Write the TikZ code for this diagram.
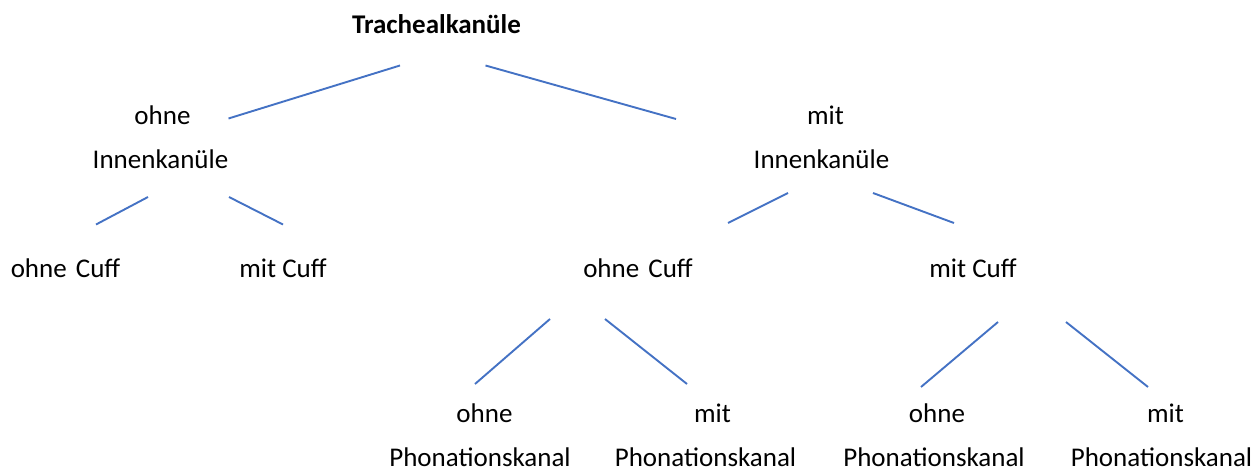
\documentclass[tikz,border=0pt]{standalone}
\usepackage{fontspec}
\setmainfont{Carlito}
\definecolor{linkblue}{HTML}{4472C4}
\begin{document}
\begin{tikzpicture}[x=1pt,y=-1pt,
  lbl/.style={inner sep=0pt,anchor=base,font=\fontsize{27}{32}\selectfont},
  leaflbl/.style={lbl,text depth=0pt},
  rootlbl/.style={lbl,font=\fontsize{27}{32}\selectfont\bfseries},
  link/.style={draw=linkblue,line width=1.9pt}]
\useasboundingbox (0,0) rectangle (1254,468);
% texts
\node[rootlbl] (root) at (436.5,33.5) {Trachealkanüle};
\node[lbl] (l1a) at (162.5,124.5) {ohne};
\node[lbl] (l1b) at (160.5,168.5) {Innenkanüle};
\node[lbl] (r1a) at (825.5,124.5) {mit};
\node[lbl] (r1b) at (821.5,168.5) {Innenkanüle};
\node[lbl] (ll) at (65.5,277) {ohne\hspace{3pt} Cuff};
\node[lbl] (lr) at (283,277) {mit Cuff};
\node[lbl] (rl) at (638,277) {ohne\hspace{3pt} Cuff};
\node[lbl] (rr) at (973,277) {mit Cuff};
\node[lbl] (p1a) at (484.5,422.5) {ohne};
\node[leaflbl] (p1b) at (480,466) {Phonationskanal};
\node[lbl] (p2a) at (712.5,422.5) {mit};
\node[leaflbl] (p2b) at (705.5,466) {Phonationskanal};
\node[lbl] (p3a) at (937,422.5) {ohne};
\node[leaflbl] (p3b) at (934,466) {Phonationskanal};
\node[lbl] (p4a) at (1165.5,422.5) {mit};
\node[leaflbl] (p4b) at (1161.5,466) {Phonationskanal};
% connector ends
\coordinate (rootL) at (400,65.5);
\coordinate (rootR) at (485.5,65.5);
\coordinate (l1top) at (228.5,118.5);
\coordinate (r1top) at (676,119);
\coordinate (l1L) at (148,197);
\coordinate (l1R) at (229,197);
\coordinate (llTop) at (96,224.5);
\coordinate (lrTop) at (283,224.5);
\coordinate (r1L) at (788,193);
\coordinate (r1R) at (873,193);
\coordinate (rlTop) at (728,223);
\coordinate (rrTop) at (954,223);
\coordinate (rlL) at (550,319);
\coordinate (rlR) at (605,319);
\coordinate (p1Top) at (475,384);
\coordinate (p2Top) at (687,384);
\coordinate (rrL) at (998,322);
\coordinate (rrR) at (1066,322);
\coordinate (p3Top) at (921,387);
\coordinate (p4Top) at (1148,387);
% connectors
\draw[link] (rootL) -- (l1top);
\draw[link] (rootR) -- (r1top);
\draw[link] (l1L) -- (llTop);
\draw[link] (l1R) -- (lrTop);
\draw[link] (r1L) -- (rlTop);
\draw[link] (r1R) -- (rrTop);
\draw[link] (rlL) -- (p1Top);
\draw[link] (rlR) -- (p2Top);
\draw[link] (rrL) -- (p3Top);
\draw[link] (rrR) -- (p4Top);
\end{tikzpicture}
\end{document}
